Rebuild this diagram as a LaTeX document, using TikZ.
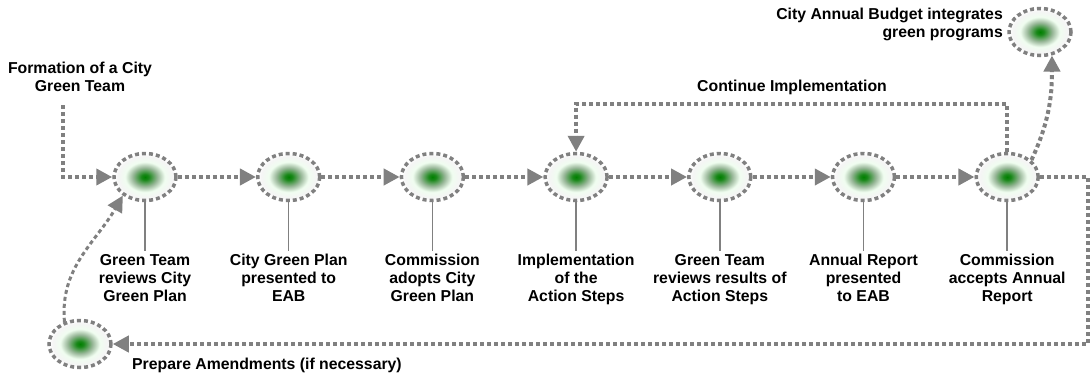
\documentclass[tikz,border=0pt]{standalone}
\usepackage{fontspec}
\setmainfont{Liberation Sans}
\usetikzlibrary{shapes.geometric,arrows.meta,positioning}

\pgfdeclareradialshading{glow}{\pgfpoint{0bp}{0bp}}{%
  color(0bp)=(green!50!black);
  color(3bp)=(green!48!black!90!white);
  color(10bp)=(green!30!black!40!white);
  color(16bp)=(black!12!green!6!white);
  color(22bp)=(black!4);
  color(25bp)=(white);
  color(50bp)=(white)}

\begin{document}
\begin{tikzpicture}[x=1pt,y=-1pt,
    font=\bfseries\fontsize{15.8}{18}\selectfont,
    stage/.style = {ellipse, draw=gray, line width=3.5pt,
      dash pattern=on 4pt off 3pt, shading=glow,
      minimum width=62pt, minimum height=47pt, inner sep=0pt},
    caption/.style = {align=center, inner sep=3pt},
    flow/.style = {draw=gray, line width=4pt, dash pattern=on 4pt off 3pt,
      -{Triangle[length=16pt,width=16pt]}},
    stem/.style = {draw=gray, line width=1.5pt}]
  \useasboundingbox (0,0) rectangle (1091,375);
  % main row
  \foreach \i/\txt in {1/{Green Team\\reviews City\\Green Plan},
      2/{City Green Plan\\presented to\\EAB},
      3/{Commission\\adopts City\\Green Plan},
      4/{Implementation\\of the\\Action Steps},
      5/{Green Team\\reviews results of\\Action Steps},
      6/{Annual Report\\presented\\to EAB},
      7/{Commission\\accepts Annual\\Report}} {
    \node[stage] (n\i) at ({145+143.7*(\i-1)},177) {};
    \node[caption, below=49pt of n\i] (t\i) {\txt};
    \draw[stem] (n\i) -- (t\i);
  }
  \foreach \i [evaluate=\i as \j using int(\i+1)] in {1,...,6}
    \draw[flow] (n\i) -- (n\j);
  % side steps
  \node[stage] (budget) at (1040,32) {};
  \node[stage] (amend) at (80,344) {};
  \node[align=right, anchor=east, inner sep=0pt] (budgettext) at (1003,24)
    {City Annual Budget integrates\\green programs};
  \node[anchor=west, inner sep=0pt] (amendtext) at (132,365)
    {Prepare Amendments (if necessary)};
  \node[align=center] (formation) at (80,77) {Formation of a City\\Green Team};
  \node (continue) at (792,87) {Continue Implementation};
  \coordinate (start) at (63,105);
  \draw[flow] (start) |- (n1);
  \draw[flow] (n7.north) -- ++(0,-48) -| (n4.north);
  \draw[flow] (n7.east) -- ++(48,0) |- (amend);
  \draw[flow] (n7.35) to[out=65,in=-90] (budget.-63);
  \draw[flow, line width=3pt] (amend.125) to[out=95,in=240] (n1.-140);
\end{tikzpicture}
\end{document}
